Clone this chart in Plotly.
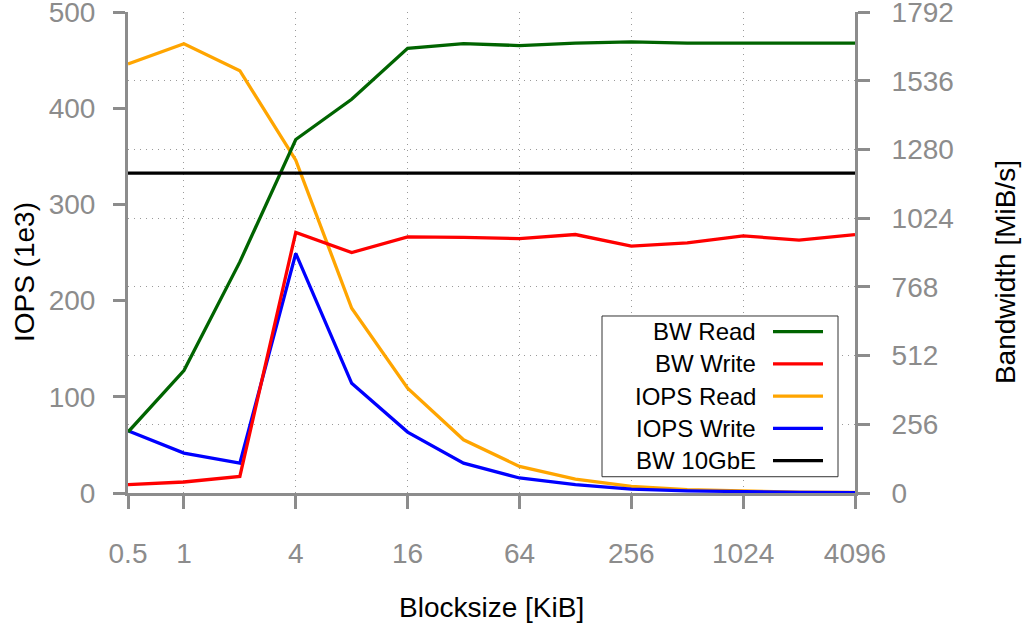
import math
import plotly.graph_objects as go

# ---- data ----
blocksize_kib = [0.5, 1, 2, 4, 8, 16, 32, 64, 128, 256, 512, 1024, 2048, 4096]
bw_read = [227, 456, 861, 1317, 1467, 1657, 1674, 1667, 1676, 1681, 1676, 1676, 1676, 1676]
bw_write = [31, 41, 62, 971, 896, 954, 952, 948, 963, 920, 932, 958, 942, 963]
iops_read = [446, 467, 439, 346, 192, 109, 55.3, 27.6, 14.5, 6.9, 3.4, 1.8, 0.9, 0.5]
iops_write = [64.7, 41.5, 31, 249, 114, 63.3, 31, 15.6, 8.6, 4.1, 2.3, 1.2, 0.6, 0.3]
bw_10gbe = 1192

x_tickvals = [0.5, 1, 4, 16, 64, 256, 1024, 4096]
x_ticktext = ["0.5", "1", "4", "16", "64", "256", "1024", "4096"]
y_tickvals = [0, 100, 200, 300, 400, 500]
y2_tickvals = [0, 256, 512, 768, 1024, 1280, 1536, 1792]

series_names = ["BW Read", "BW Write", "IOPS Read", "IOPS Write", "BW 10GbE"]
series_colors = ["#006400", "#ff0000", "#ffa500", "#0000ff", "#000000"]

# ---- layout geometry (page pixels; body margin removed via post_script) ----
W, H = 1035, 631
L, R, T, B = 128, 855, 11.5, 493.3


def px(x):
    return (x - L) / (R - L)


def py(y):
    return (B - y) / (B - T)


FONT = "Liberation Sans, Arial, Helvetica, sans-serif"
GRAY = "#8c8c8c"
LW = 3.3

fig = go.Figure()
fig.add_trace(go.Scatter(x=blocksize_kib, y=bw_read, name=series_names[0], mode="lines",
                         line=dict(color=series_colors[0], width=LW), yaxis="y2"))
fig.add_trace(go.Scatter(x=blocksize_kib, y=bw_write, name=series_names[1], mode="lines",
                         line=dict(color=series_colors[1], width=LW), yaxis="y2"))
fig.add_trace(go.Scatter(x=blocksize_kib, y=iops_read, name=series_names[2], mode="lines",
                         line=dict(color=series_colors[2], width=LW), yaxis="y"))
fig.add_trace(go.Scatter(x=blocksize_kib, y=iops_write, name=series_names[3], mode="lines",
                         line=dict(color=series_colors[3], width=LW), yaxis="y"))
fig.add_trace(go.Scatter(x=[blocksize_kib[0], blocksize_kib[-1]], y=[bw_10gbe, bw_10gbe],
                         name=series_names[4], mode="lines",
                         line=dict(color=series_colors[4], width=LW), yaxis="y2"))

tickfont = dict(family=FONT, size=28, color=GRAY)
axis_common = dict(showline=True, linecolor=GRAY, linewidth=3, ticks="outside",
                   tickcolor=GRAY, tickwidth=3, zeroline=False, tickfont=tickfont,
                   ticklabeloverflow="allow")

fig.update_layout(
    width=W, height=H,
    margin=dict(l=L, r=W - R, t=T, b=H - B, autoexpand=False),
    paper_bgcolor="white", plot_bgcolor="white",
    showlegend=False,
    xaxis=dict(type="log", range=[math.log10(0.5), math.log10(4096)],
               tickvals=x_tickvals, ticktext=x_ticktext, ticklen=13,
               showgrid=True, gridcolor="#9a9a9a", gridwidth=1, griddash="1px,5px",
               ticklabelstandoff=20, **axis_common),
    yaxis=dict(range=[0, 500], tickvals=y_tickvals, ticklen=12, showgrid=False,
               ticklabelstandoff=12, **axis_common),
    yaxis2=dict(range=[0, 1792], tickvals=y2_tickvals, ticklen=12, overlaying="y", side="right",
                showgrid=True, gridcolor="#9a9a9a", gridwidth=1, griddash="1px,5px",
                ticklabelstandoff=16, **axis_common),
)

title_font = dict(family=FONT, size=28, color="black")
ann = [
    dict(text="Blocksize [KiB]", x=px(491), y=py(608), xref="paper", yref="paper",
         showarrow=False, font=title_font, xanchor="center", yanchor="middle"),
    dict(text="IOPS (1e3)", x=px(24), y=py(272), xref="paper", yref="paper",
         showarrow=False, font=title_font, textangle=-90, xanchor="center", yanchor="middle"),
    dict(text="Bandwidth [MiB/s]", x=px(1005), y=py(272), xref="paper", yref="paper",
         showarrow=False, font=title_font, textangle=-90, xanchor="center", yanchor="middle"),
]

# manual legend (gnuplot style: text right-aligned, sample on the right)
shapes = [dict(type="rect", xref="paper", yref="paper", x0=px(602), x1=px(838),
               y0=py(477), y1=py(316), line=dict(color="#333333", width=1), fillcolor="white",
               layer="above")]
leg_y0, leg_dy = 331.7, 32.3
for i, (nm, col) in enumerate(zip(series_names, series_colors)):
    yy = leg_y0 + i * leg_dy
    ann.append(dict(text=nm, x=px(758), y=py(yy), xref="paper", yref="paper", showarrow=False,
                    font=dict(family=FONT, size=24, color="black"), xanchor="right", yanchor="middle"))
    shapes.append(dict(type="line", xref="paper", yref="paper", x0=px(773), x1=px(823),
                       y0=py(yy), y1=py(yy), line=dict(color=col, width=LW), layer="above"))

fig.update_layout(annotations=ann, shapes=shapes)
fig.write_html("out.html", config={"displayModeBar": False},
               post_script="document.body.style.margin='0';document.body.style.overflow='hidden';")
